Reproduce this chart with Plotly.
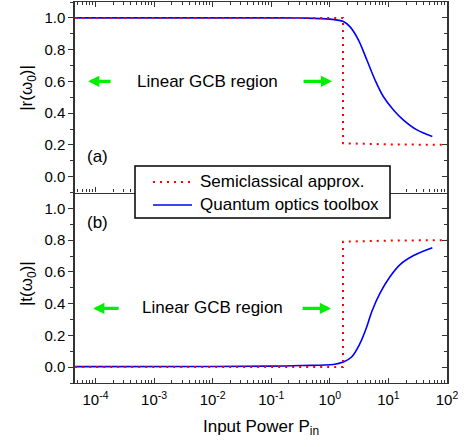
import plotly.graph_objects as go
from plotly.subplots import make_subplots

# input power axis values
P_semi = [4.5e-5, 0.01, 1.0, 1.68, 1.68, 3.0, 10.0, 100.0]
r_semi = [1.0, 1.0, 1.0, 1.0, 0.21, 0.207, 0.203, 0.2]
t_semi = [0.0, 0.0, 0.0, 0.0, 0.79, 0.793, 0.797, 0.8]

P_r = [4.5e-5, 0.01, 0.1, 0.32, 1.0, 1.7, 2.2, 3.07, 4.27, 5.89, 8.18, 12.2, 17.9, 30.2, 56.2]
r_quantum = [1.0, 1.0, 1.0, 0.999, 0.992, 0.977, 0.945, 0.862, 0.736, 0.61, 0.505, 0.42, 0.358, 0.296, 0.253]

P_t = [4.5e-5, 0.01, 0.1, 0.32, 1.15, 1.7, 2.35, 3.27, 4.27, 5.19, 7.19, 10.7, 15.8, 26.9, 56.2]
t_quantum = [0.003, 0.004, 0.006, 0.01, 0.017, 0.032, 0.064, 0.149, 0.254, 0.349, 0.466, 0.571, 0.646, 0.703, 0.752]

x_ticks = [1e-4, 1e-3, 1e-2, 1e-1, 1, 10, 100]
x_ticktext = ["10<sup>-4</sup>", "10<sup>-3</sup>", "10<sup>-2</sup>", "10<sup>-1</sup>",
              "10<sup>0</sup>", "10<sup>1</sup>", "10<sup>2</sup>"]
y_ticks = [0, 0.2, 0.4, 0.6, 0.8, 1.0]
legend_names = ["Semiclassical approx.", "Quantum optics toolbox"]

RED = "#ff0000"
BLUE = "#0000ff"
GREEN = "#00ee00"
AX = "#333333"
FONT = "Arial, Liberation Sans, sans-serif"
SEMI_DASH = "2px,5px"

fig = make_subplots(rows=2, cols=1, shared_xaxes=True, vertical_spacing=0)

fig.add_trace(go.Scatter(x=P_r, y=r_quantum, mode="lines", name=legend_names[1],
                         line=dict(color=BLUE, width=1.6, shape="spline")), row=1, col=1)
fig.add_trace(go.Scatter(x=P_semi, y=r_semi, mode="lines", name=legend_names[0],
                         line=dict(color=RED, width=2, dash=SEMI_DASH)), row=1, col=1)
fig.add_trace(go.Scatter(x=P_t, y=t_quantum, mode="lines", name=legend_names[1],
                         line=dict(color=BLUE, width=1.6, shape="spline")), row=2, col=1)
fig.add_trace(go.Scatter(x=P_semi, y=t_semi, mode="lines", name=legend_names[0],
                         line=dict(color=RED, width=2, dash=SEMI_DASH)), row=2, col=1)
# empty traces so the right-hand (inward tick) axes get drawn
fig.add_trace(go.Scatter(x=[None], y=[None], xaxis="x", yaxis="y3", hoverinfo="skip"))
fig.add_trace(go.Scatter(x=[None], y=[None], xaxis="x2", yaxis="y4", hoverinfo="skip"))

xax = dict(type="log", range=[-4.35, 2], showgrid=False, zeroline=False, automargin=False,
           showline=True, linecolor=AX, linewidth=1.3,
           ticks="inside", ticklen=5, tickwidth=1, tickcolor=AX,
           tickvals=x_ticks, ticktext=x_ticktext, ticklabeloverflow="allow", ticklabelstandoff=3,
           minor=dict(ticks="inside", ticklen=3, dtick="D1", tickcolor=AX, tickwidth=0.8),
           tickfont=dict(size=15, color="black", family=FONT))
fig.update_xaxes(**xax)
fig.update_xaxes(showticklabels=False, mirror="ticks", row=1, col=1)
fig.update_xaxes(mirror=False, row=2, col=1)
fig.update_xaxes(title=dict(text="Input Power P<sub>in</sub>", font=dict(size=17, family=FONT, color="black"),
                            standoff=12), row=2, col=1)

yax = dict(range=[-0.1, 1.1], showgrid=False, zeroline=False, automargin=False,
           showline=True, linecolor=AX, linewidth=1.5, mirror=True,
           ticks="outside", ticklen=5, tickwidth=1, tickcolor=AX,
           tickvals=y_ticks, tickformat=".1f",
           minor=dict(ticks="outside", ticklen=3, dtick=0.1, tickcolor=AX),
           tickfont=dict(size=15, color="black", family=FONT))
fig.update_yaxes(**yax)

right_ax = dict(side="right", range=[-0.1, 1.1], showgrid=False, zeroline=False, showline=False,
                automargin=False, showticklabels=False, ticks="inside", ticklen=5, tickwidth=1,
                tickcolor=AX, tickvals=y_ticks,
                minor=dict(ticks="inside", ticklen=3, dtick=0.1, tickcolor=AX))
fig.update_layout(yaxis3=dict(overlaying="y", anchor="x", **right_ax),
                  yaxis4=dict(overlaying="y2", anchor="x2", **right_ax))

annots = []
# y titles, placed by hand so they sit where the original has them
annots.append(dict(x=-0.126, y=0.55, xref="paper", yref="y domain", text="|r(ω<sub>0</sub>)|",
                   xanchor="center", yanchor="middle", textangle=-90, showarrow=False,
                   font=dict(size=17, family=FONT, color="black")))
annots.append(dict(x=-0.126, y=0.52, xref="paper", yref="y2 domain", text="|t(ω<sub>0</sub>)|",
                   xanchor="center", yanchor="middle", textangle=-90, showarrow=False,
                   font=dict(size=17, family=FONT, color="black")))
# region labels
annots.append(dict(x=-2.096, y=0.6, xref="x", yref="y", text="Linear GCB region", showarrow=False,
                   font=dict(size=17, family=FONT, color="black")))
annots.append(dict(x=-2.01, y=0.373, xref="x2", yref="y2", text="Linear GCB region", showarrow=False,
                   font=dict(size=17, family=FONT, color="black")))
annots.append(dict(x=-3.97, y=0.126, xref="x", yref="y", text="(a)", showarrow=False,
                   font=dict(size=17, family=FONT, color="black")))
annots.append(dict(x=-3.97, y=0.91, xref="x2", yref="y2", text="(b)", showarrow=False,
                   font=dict(size=17, family=FONT, color="black")))
# green arrows
for xr, yr, yv, head, tail in [("x", "y", 0.6, -4.126, -3.717), ("x", "y", 0.6, 0.038, -0.474),
                               ("x2", "y2", 0.37, -4.04, -3.58), ("x2", "y2", 0.37, 0.02, -0.49)]:
    annots.append(dict(x=head, y=yv, ax=tail, ay=yv, xref=xr, yref=yr, axref=xr, ayref=yr,
                       text="", showarrow=True, arrowhead=2, arrowsize=0.7, arrowwidth=3.2,
                       arrowcolor=GREEN))

# legend box (drawn by hand to match the boxed key of the original)
shapes = [dict(type="rect", xref="paper", yref="paper", x0=0.1613, x1=0.8468, y0=0.4331, y1=0.5696,
               line=dict(color="black", width=1.5), fillcolor="white", layer="above")]
for yl, col, dash, w, name in [(0.5276, RED, SEMI_DASH, 2, legend_names[0]),
                               (0.4672, BLUE, "solid", 1.6, legend_names[1])]:
    shapes.append(dict(type="line", xref="paper", yref="paper", x0=0.2097, x1=0.3145, y0=yl, y1=yl,
                       line=dict(color=col, width=w, dash=dash), layer="above"))
    annots.append(dict(x=0.3306, y=yl, xref="paper", yref="paper", xanchor="left", yanchor="middle",
                       text=name, showarrow=False, font=dict(size=17, family=FONT, color="black")))

fig.update_layout(
    annotations=annots, shapes=shapes,
    width=469, height=447,
    margin=dict(l=75, r=22, t=2, b=64),
    plot_bgcolor="white", paper_bgcolor="white",
    font=dict(family=FONT, color="black"),
    showlegend=False,
)

fig.write_html("out.html", config={"displayModeBar": False},
               post_script="document.body.style.margin='0';")
